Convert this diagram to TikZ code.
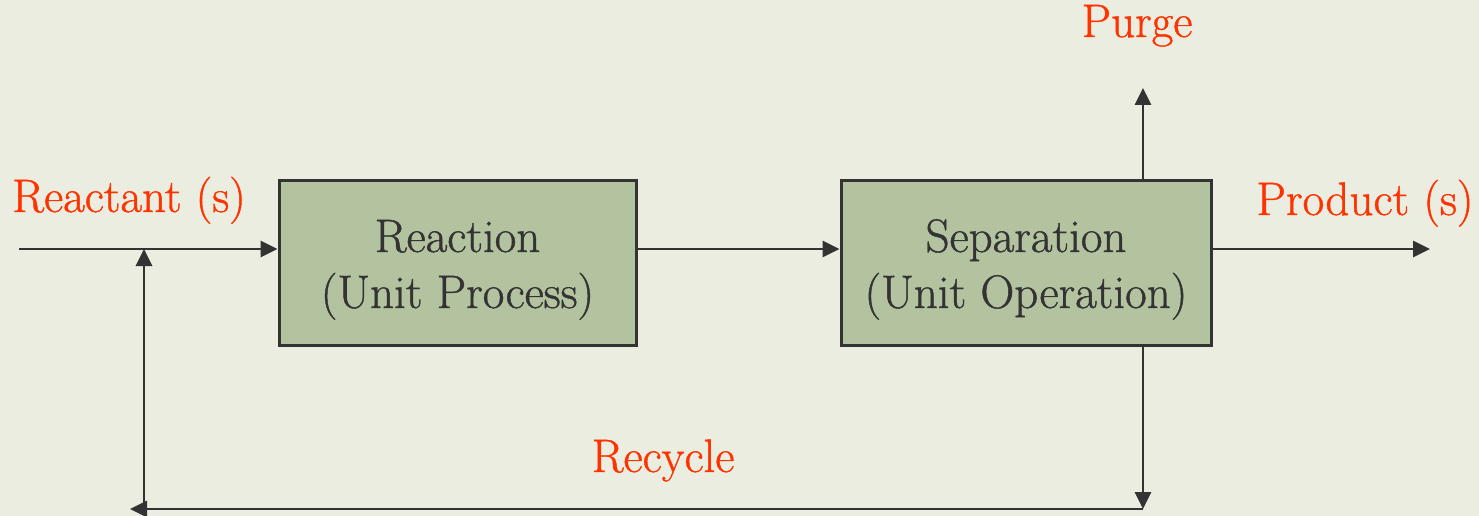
\documentclass[tikz,border=0pt]{standalone}
\usepackage{fontspec}
\newfontfamily\serifx{Latin Modern Roman}[FakeBold=0.9]
\usetikzlibrary{arrows.meta}
\definecolor{bg}{HTML}{ECEDE1}
\definecolor{boxfill}{HTML}{B3C3A0}
\definecolor{ink}{HTML}{333333}
\definecolor{lab}{HTML}{FF3300}
\begin{document}
\begin{tikzpicture}[x=1pt,y=-1pt,
  unitbox/.style={draw=ink,line width=3pt,fill=boxfill,minimum width=357pt,minimum height=165pt,inner sep=0pt},
  boxtext/.style={anchor=base,text=ink,font=\serifx\fontsize{47}{56}\selectfont,inner sep=0pt},
  flowlabel/.style={anchor=base,text=lab,font=\serifx\fontsize{47}{56}\selectfont,inner sep=0pt},
  flow/.style={draw=ink,line width=2.8pt,-{Triangle[length=17pt,width=16pt]}}]
\fill[bg] (0,0) rectangle (1479,516);
\useasboundingbox (0,0) rectangle (1479,516);
% boxes
\node[unitbox] (rx) at (457.5,262.5) {};
\node[unitbox,minimum width=370pt] (sep) at (1026,262.5) {};
\node[boxtext] (rx1) at (457.5,252) {Reaction};
\node[boxtext] (rx2) at (457.5,308) {(Unit Process)};
\node[boxtext] (sep1) at (1026,252) {Separation};
\node[boxtext] (sep2) at (1026,308) {(Unit Operation)};
% labels
\node[flowlabel] (lreact) at (129,212) {Reactant (s)};
\node[flowlabel] (lpurge) at (1137,37) {Purge};
\node[flowlabel] (lprod) at (1365,215) {Product (s)};
\node[flowlabel] (lrec) at (663,472) {Recycle};
% coordinates
\coordinate (in) at (19,249);
\coordinate (junc) at (144,249);
\coordinate (purgetop) at (1143,88);
\coordinate (prodend) at (1430,249);
\coordinate (recdown) at (1143,509);
\coordinate (recleft) at (130,509);
\coordinate (recup) at (144,509);
% connectors
\draw[flow] (in) -- (rx.west |- in);
\draw[flow] (rx.east |- in) -- (sep.west |- in);
\draw[flow] (sep.east |- in) -- (prodend);
\draw[flow] (sep.north -| purgetop) -- (purgetop);
\draw[flow] (sep.south -| recdown) -- (recdown);
\draw[flow] (recdown) -- (recleft);
\draw[flow] (recup) -- (junc);
\end{tikzpicture}
\end{document}
